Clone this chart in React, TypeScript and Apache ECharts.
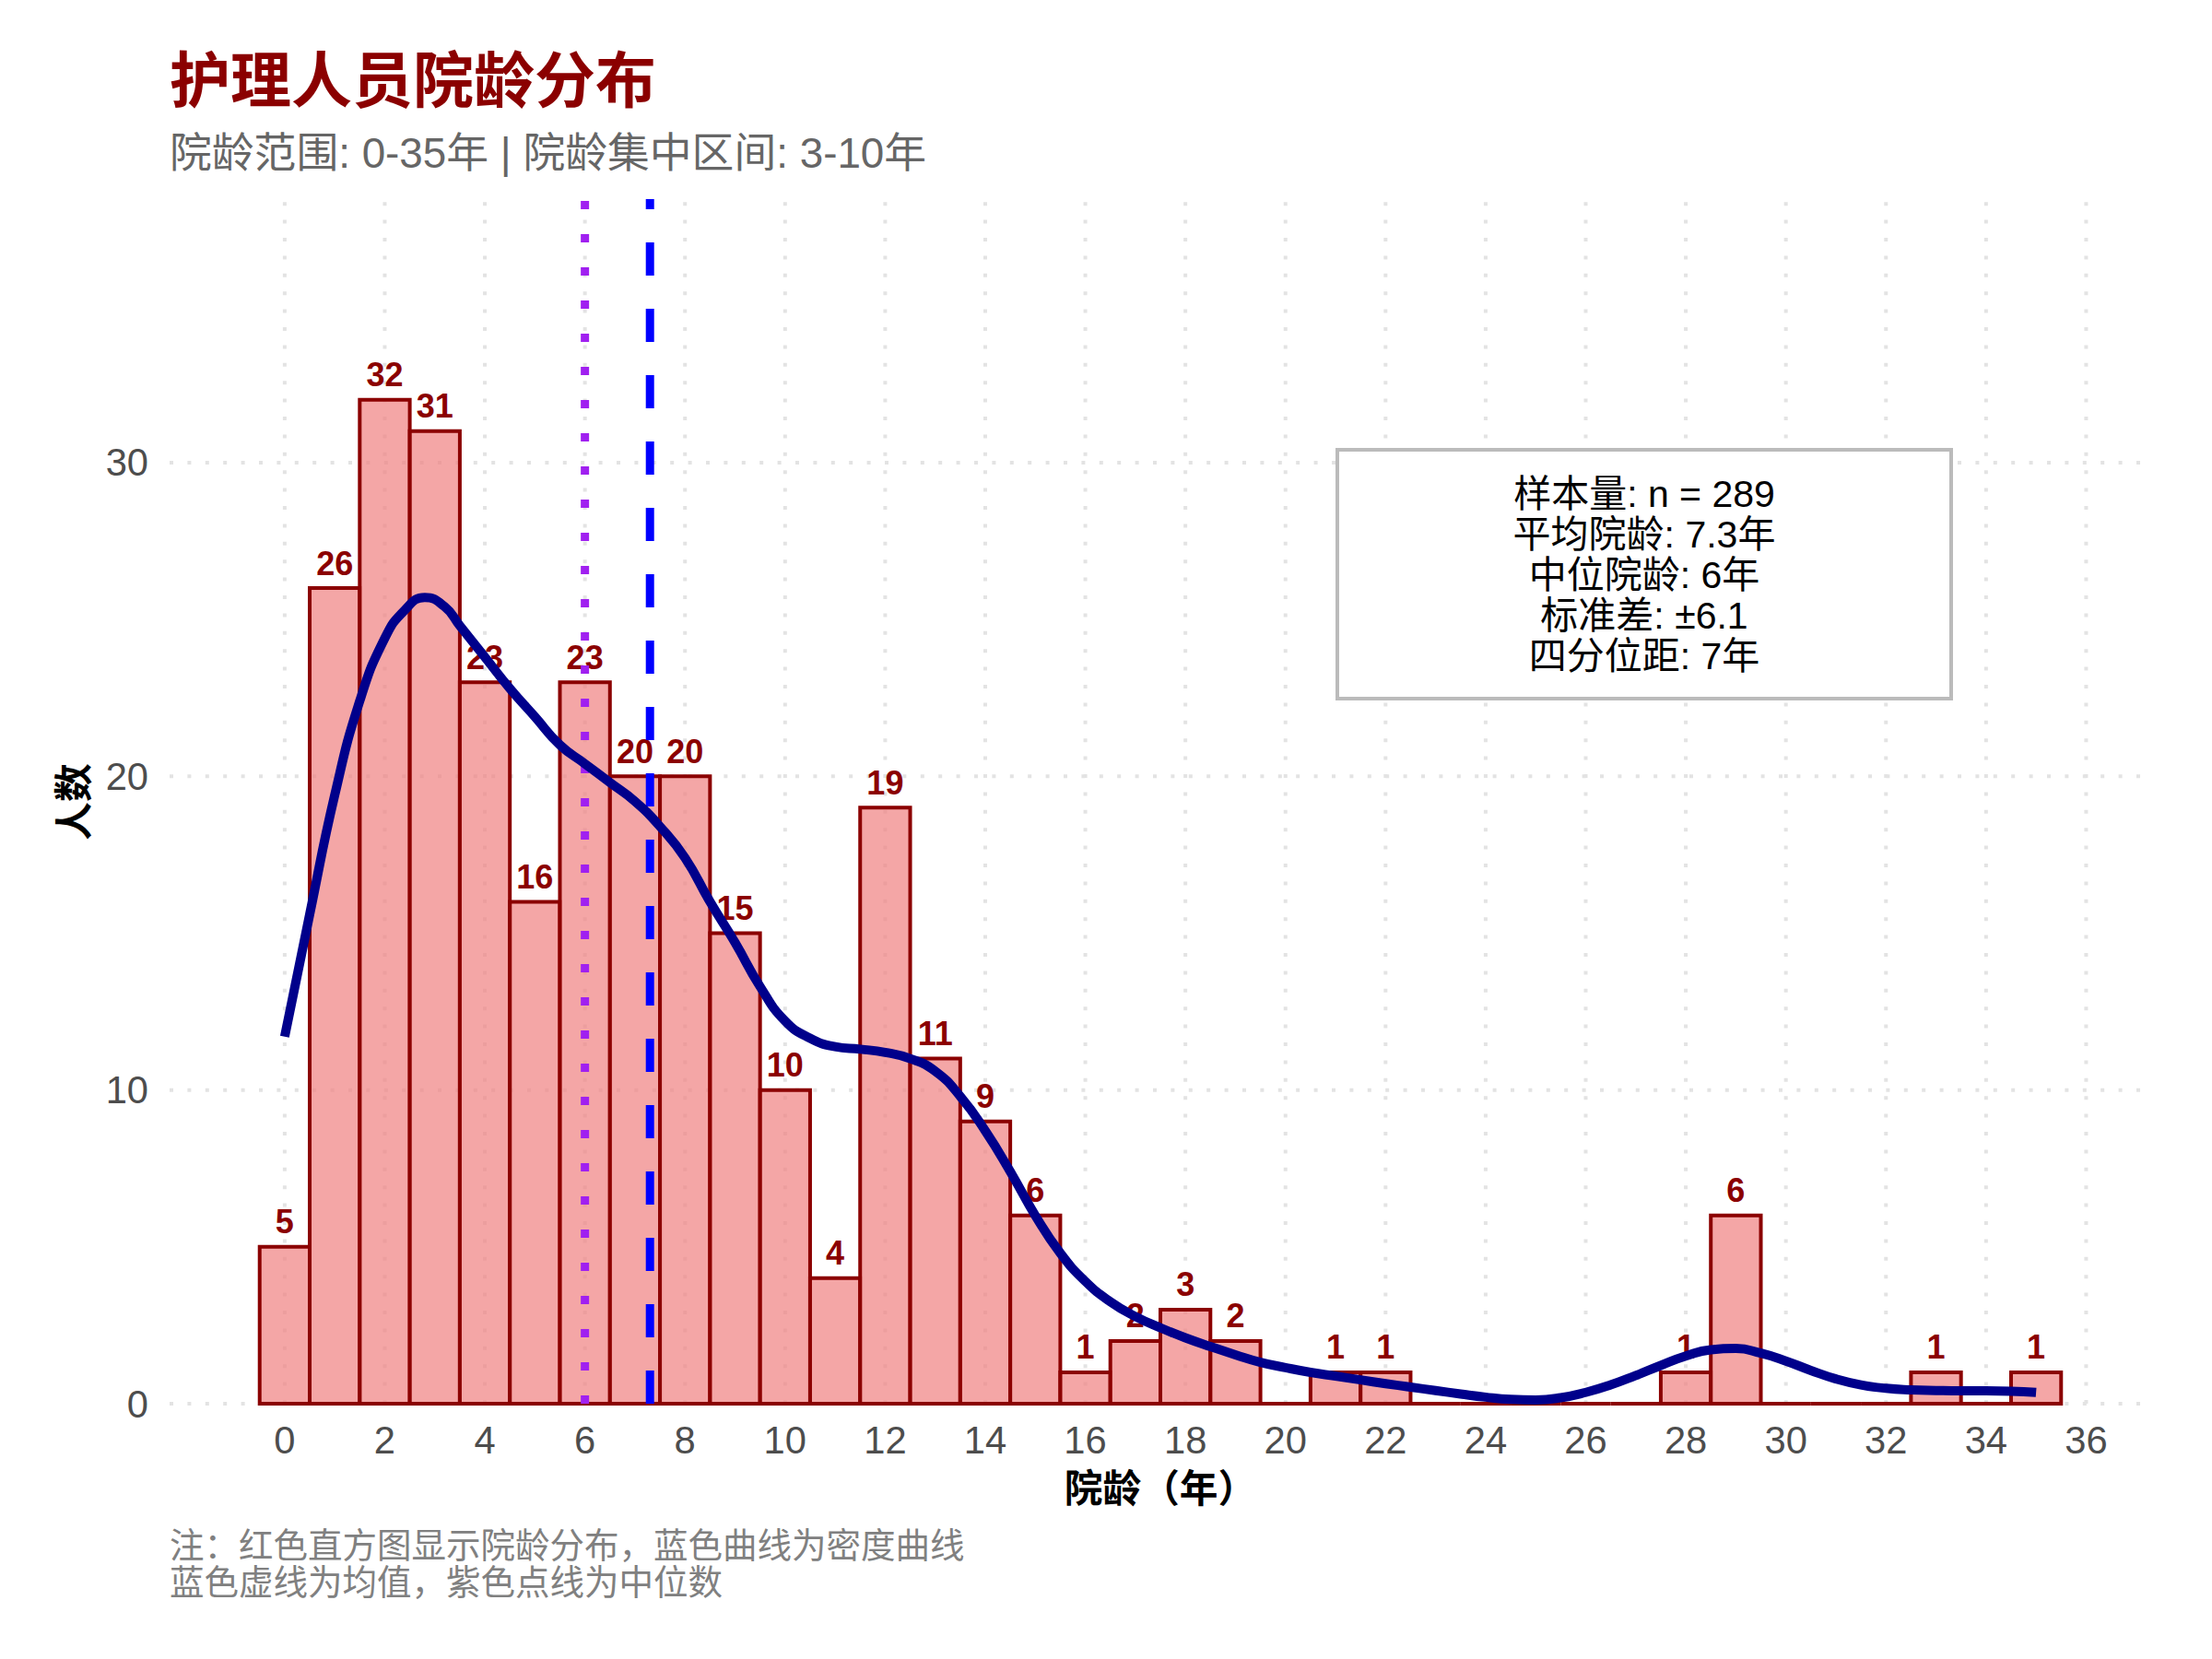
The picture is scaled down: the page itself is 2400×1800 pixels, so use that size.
import React, { useEffect, useRef } from "react";
import * as echarts from "echarts";

// Histogram bins (years of service) and head counts per bin
const bins = [0, 1, 2, 3, 4, 5, 6, 7, 8, 9, 10, 11, 12, 13, 14, 15, 16, 17, 18, 19, 20, 21, 22, 23, 24, 25, 26, 27, 28, 29, 30, 31, 32, 33, 34, 35];
const counts = [5, 26, 32, 31, 23, 16, 23, 20, 20, 15, 10, 4, 19, 11, 9, 6, 1, 2, 3, 2, 0, 1, 1, 0, 0, 0, 0, 0, 1, 6, 0, 0, 0, 1, 0, 1];

// Density curve (scaled to counts)
const densX = [0, 0.5, 1, 1.5, 2, 2.4, 2.8, 3.2, 3.5, 4, 4.5, 5, 5.5, 6, 6.5, 7, 7.5, 8, 8.5, 9, 9.5, 10, 10.5, 11, 11.5, 12, 12.5, 13, 13.5, 14, 14.5, 15, 15.5, 16, 16.5, 17, 17.5, 18, 18.5, 19, 19.5, 20, 20.5, 21, 21.5, 22, 22.5, 23, 23.5, 24, 24.5, 25, 25.5, 26, 26.5, 27, 27.5, 28, 28.5, 29, 29.5, 30, 30.5, 31, 31.5, 32, 32.5, 33, 33.5, 34, 34.5, 35];
const densY = [11.7, 15.6, 19.4, 22.4, 24.4, 25.3, 25.7, 25.4, 24.8, 23.8, 22.8, 21.9, 21.0, 20.4, 19.8, 19.2, 18.4, 17.4, 16.0, 14.7, 13.3, 12.2, 11.65, 11.38, 11.3, 11.2, 11.0, 10.6, 9.8, 8.7, 7.4, 6.0, 4.8, 3.9, 3.25, 2.78, 2.42, 2.1, 1.82, 1.56, 1.32, 1.15, 1.0, 0.88, 0.76, 0.64, 0.53, 0.42, 0.31, 0.21, 0.14, 0.12, 0.19, 0.36, 0.6, 0.9, 1.22, 1.52, 1.72, 1.76, 1.61, 1.36, 1.06, 0.79, 0.6, 0.49, 0.44, 0.42, 0.41, 0.41, 0.4, 0.36];

// Summary statistics
const meanValue = 7.3;
const medianValue = 6;

// Tick labels
const xTicks = [0, 2, 4, 6, 8, 10, 12, 14, 16, 18, 20, 22, 24, 26, 28, 30, 32, 34, 36];
const yTicks = [0, 10, 20, 30];

// Texts
const titleText = "护理人员院龄分布";
const subtitleText = "院龄范围: 0-35年 | 院龄集中区间: 3-10年";
const xAxisTitle = "院龄（年）";
const yAxisTitle = "人数";
const statLines = ["样本量: n = 289", "平均院龄: 7.3年", "中位院龄: 6年", "标准差: ±6.1", "四分位距: 7年"];
const noteLines = ["注：红色直方图显示院龄分布，蓝色曲线为密度曲线", "蓝色虚线为均值，紫色点线为中位数"];

const FONT = "'Liberation Sans', 'Noto Sans CJK SC', sans-serif";
const GRID_COLOR = "#E3E3E3";

function buildOption() {
  const gridStyle = { stroke: GRID_COLOR, lineWidth: 4, lineDash: [4, 15.4], lineCap: "butt" };

  return {
    animation: false,
    backgroundColor: "#FFFFFF",
    grid: { left: 184, right: 66, top: 216, bottom: 277, containLabel: false, outerBoundsMode: "none" },
    xAxis: {
      type: "value",
      min: -2.3,
      max: 37.3,
      axisLine: { show: false },
      axisTick: { show: false },
      splitLine: { show: false },
      axisLabel: {
        customValues: xTicks,
        fontFamily: FONT,
        fontSize: 41.7,
        color: "#4D4D4D",
        margin: 19,
      },
    },
    yAxis: {
      type: "value",
      min: 0,
      max: 38.4,
      axisLine: { show: false },
      axisTick: { show: false },
      splitLine: { show: false },
      axisLabel: {
        customValues: yTicks,
        fontFamily: FONT,
        fontSize: 41.7,
        color: "#4D4D4D",
        margin: 23,
      },
    },
    series: [
      // vertical grid lines
      {
        type: "custom",
        z: 1,
        silent: true,
        data: xTicks.map((v) => [v, 0]),
        renderItem: (params: any, api: any) => {
          const cs = params.coordSys;
          const p = api.coord([api.value(0), 0]);
          return {
            type: "line",
            shape: { x1: p[0], y1: cs.y + cs.height, x2: p[0], y2: cs.y },
            style: gridStyle,
          };
        },
      },
      // horizontal grid lines
      {
        type: "custom",
        z: 1,
        silent: true,
        data: yTicks.map((v) => [0, v]),
        renderItem: (params: any, api: any) => {
          const cs = params.coordSys;
          const p = api.coord([0, api.value(1)]);
          return {
            type: "line",
            shape: { x1: cs.x, y1: p[1], x2: cs.x + cs.width, y2: p[1] },
            style: gridStyle,
          };
        },
      },
      // histogram bars
      {
        type: "custom",
        z: 2,
        silent: true,
        data: bins.map((b, i) => [b, counts[i]]),
        renderItem: (params: any, api: any) => {
          const x = api.value(0);
          const v = api.value(1);
          const tl = api.coord([x - 0.5, v]);
          const br = api.coord([x + 0.5, 0]);
          return {
            type: "rect",
            shape: { x: tl[0], y: tl[1], width: br[0] - tl[0], height: br[1] - tl[1] },
            style: { fill: "rgba(240,128,128,0.7)", stroke: "#8B0000", lineWidth: 4 },
          };
        },
      },
      // count labels
      {
        type: "custom",
        z: 3,
        silent: true,
        data: bins.map((b, i) => [b, counts[i]]).filter((d) => d[1] > 0),
        renderItem: (params: any, api: any) => {
          const x = api.value(0);
          const v = api.value(1);
          const p = api.coord([x, v]);
          return {
            type: "text",
            x: p[0],
            y: p[1] - 27,
            style: {
              text: String(v),
              fill: "#8B0000",
              fontFamily: FONT,
              fontWeight: "bold",
              fontSize: 36,
              align: "center",
              verticalAlign: "middle",
            },
          };
        },
      },
      // median (dotted purple) and mean (dashed blue) lines
      {
        type: "custom",
        z: 4,
        silent: true,
        data: [[medianValue, 0]],
        renderItem: (params: any, api: any) => {
          const cs = params.coordSys;
          const p = api.coord([api.value(0), 0]);
          return {
            type: "line",
            shape: { x1: p[0], y1: cs.y + cs.height, x2: p[0], y2: cs.y },
            style: { stroke: "#A020F0", lineWidth: 9, lineDash: [9, 27], lineCap: "butt" },
          };
        },
      },
      {
        type: "custom",
        z: 4,
        silent: true,
        data: [[meanValue, 0]],
        renderItem: (params: any, api: any) => {
          const cs = params.coordSys;
          const p = api.coord([api.value(0), 0]);
          return {
            type: "line",
            shape: { x1: p[0], y1: cs.y + cs.height, x2: p[0], y2: cs.y },
            style: { stroke: "#0000FF", lineWidth: 9, lineDash: [36, 36], lineCap: "butt" },
          };
        },
      },
      // density curve
      {
        type: "line",
        z: 5,
        silent: true,
        data: densX.map((x, i) => [x, densY[i]]),
        smooth: 0.5,
        showSymbol: false,
        symbol: "none",
        lineStyle: { color: "#00008B", width: 10, cap: "butt", join: "round" },
      },
    ],
    graphic: [
      {
        type: "text",
        x: 184,
        y: 88,
        style: {
          text: titleText,
          fill: "#8B0000",
          fontFamily: FONT,
          fontWeight: "bold",
          fontSize: 66,
          align: "left",
          verticalAlign: "middle",
        },
      },
      {
        type: "text",
        x: 184,
        y: 166,
        style: {
          text: subtitleText,
          fill: "#666666",
          fontFamily: FONT,
          fontSize: 45.8,
          align: "left",
          verticalAlign: "middle",
        },
      },
      {
        type: "text",
        x: 1259,
        y: 1615,
        style: {
          text: xAxisTitle,
          fill: "#000000",
          fontFamily: FONT,
          fontWeight: "bold",
          fontSize: 41.7,
          align: "center",
          verticalAlign: "middle",
        },
      },
      {
        type: "text",
        x: 80,
        y: 870,
        rotation: Math.PI / 2,
        style: {
          text: yAxisTitle,
          fill: "#000000",
          fontFamily: FONT,
          fontWeight: "bold",
          fontSize: 41.7,
          align: "center",
          verticalAlign: "middle",
        },
      },
      {
        type: "rect",
        z: 50,
        shape: { x: 1451, y: 488, width: 666, height: 270 },
        style: { fill: "#FFFFFF", stroke: "#BBBBBB", lineWidth: 4 },
      },
      {
        type: "text",
        z: 51,
        x: 1784,
        y: 624,
        style: {
          text: statLines.join("\n"),
          fill: "#000000",
          fontFamily: FONT,
          fontSize: 41,
          lineHeight: 44,
          align: "center",
          verticalAlign: "middle",
        },
      },
      {
        type: "text",
        x: 184,
        y: 1697,
        style: {
          text: noteLines.join("\n"),
          fill: "#808080",
          fontFamily: FONT,
          fontSize: 37.5,
          lineHeight: 40,
          align: "left",
          verticalAlign: "middle",
        },
      },
    ],
  };
}

export default function App() {
  const ref = useRef<HTMLDivElement>(null);

  useEffect(() => {
    if (!ref.current) return;
    const chart = echarts.init(ref.current, null, { renderer: "svg" });
    chart.setOption(buildOption() as any);
    return () => {
      chart.dispose();
    };
  }, []);

  return (
    <div
      ref={ref}
      style={{ position: "fixed", left: 0, top: 0, width: 2400, height: 1800, background: "#FFFFFF" }}
    />
  );
}
